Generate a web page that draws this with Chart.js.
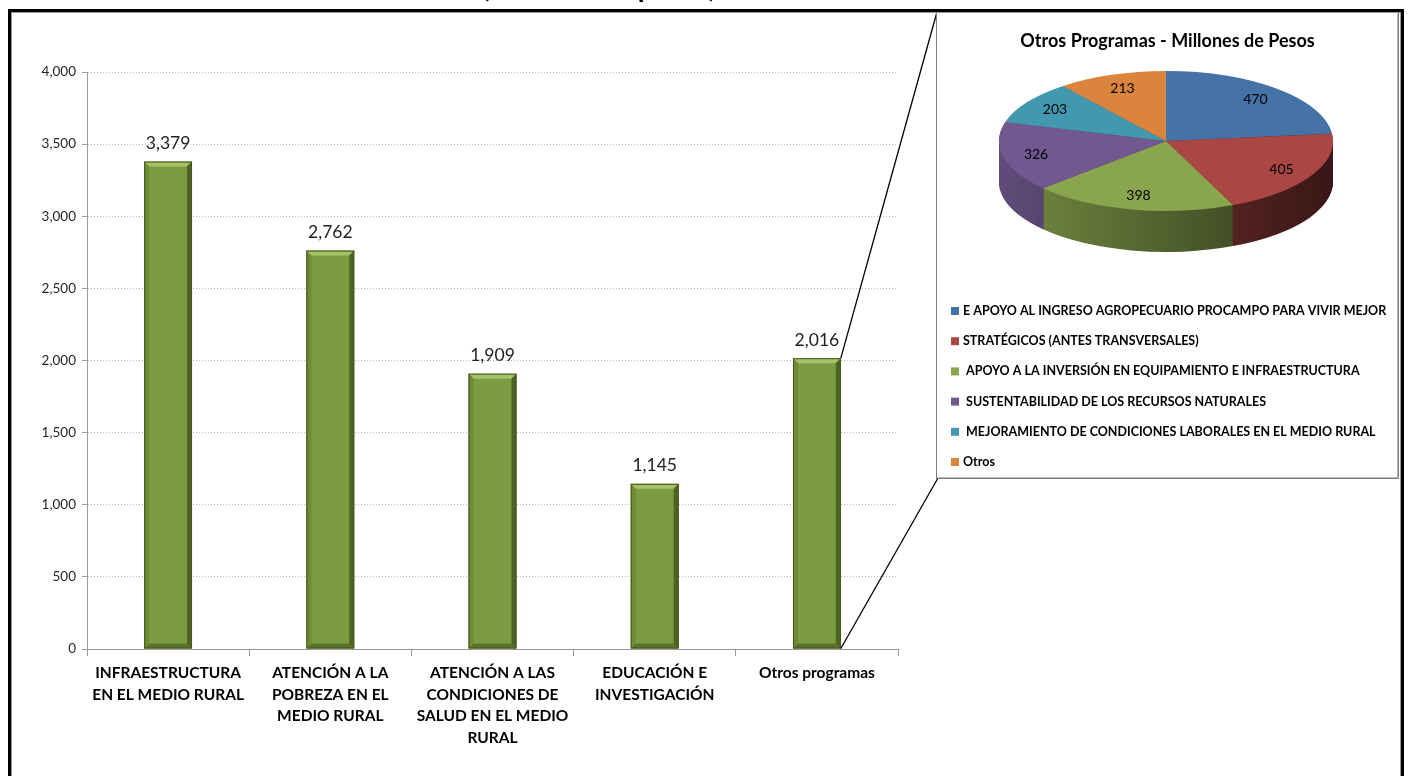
<!DOCTYPE html>
<html><head><meta charset="utf-8">
<script src="https://cdn.jsdelivr.net/npm/chart.js@4"></script>
<style>
html,body{margin:0;padding:0;background:#fff;width:1408px;height:776px;overflow:hidden;}
#bar{position:absolute;left:0;top:0;}
#frame{position:absolute;left:8px;top:9px;width:1396px;height:820px;box-sizing:border-box;border:3px solid #000;box-shadow:inset 0 0 0 1px #9a9a9a;pointer-events:none;}
#inset{position:absolute;left:936px;top:11px;width:463px;height:468px;box-sizing:border-box;border:1px solid #7a7a7a;background:#fff;box-shadow:inset -1px -1px 0 #c0c0c0;}
#pie{position:absolute;left:937px;top:12px;}
</style></head><body>
<canvas id="bar" width="1408" height="776"></canvas>
<div id="inset"></div>
<canvas id="pie" width="461" height="466"></canvas>
<div id="frame"></div>
<script>
// ---- data ----
const categories = [
  ['INFRAESTRUCTURA','EN EL MEDIO RURAL'],
  ['ATENCIÓN A LA','POBREZA EN EL','MEDIO RURAL'],
  ['ATENCIÓN A LAS','CONDICIONES DE','SALUD EN EL MEDIO','RURAL'],
  ['EDUCACIÓN E','INVESTIGACIÓN'],
  ['Otros programas']
];
const values = [3379, 2762, 1909, 1145, 2016];
const yMin = 0, yMax = 4000, yStep = 500;
const cutTitle = '(millones de pesos)';

const pieTitle = 'Otros Programas - Millones de Pesos';
const pieLabels = [
  'E APOYO AL INGRESO AGROPECUARIO PROCAMPO PARA VIVIR MEJOR',
  'STRATÉGICOS (ANTES TRANSVERSALES)',
  ' APOYO A LA INVERSIÓN EN EQUIPAMIENTO E INFRAESTRUCTURA',
  ' SUSTENTABILIDAD DE LOS RECURSOS NATURALES',
  ' MEJORAMIENTO DE CONDICIONES LABORALES EN EL MEDIO RURAL',
  'Otros'
];
const pieValues = [470, 405, 398, 326, 203, 213];
const pieColors = ['#4572A7','#AA4643','#89A54E','#71588F','#4198AF','#DB843D'];

// ---- helpers ----
function shade(hex, f){
  const n = parseInt(hex.slice(1),16);
  const r = Math.round(((n>>16)&255)*f), g = Math.round(((n>>8)&255)*f), b = Math.round((n&255)*f);
  return 'rgb('+r+','+g+','+b+')';
}
const FONT = 'Lato, "Open Sans", sans-serif';

// ---- bar chart ----
const INSET_TL = {x:937, y:12}, INSET_BL = {x:938, y:478};
const barDeco = {
  id:'barDeco',
  afterDatasetsDraw(chart){
    const ctx = chart.ctx;
    const meta = chart.getDatasetMeta(0);
    meta.data.forEach((b,i)=>{
      const x=b.x, y=b.y, base=b.base, w=b.width;
      const L=x-w/2, R=x+w/2, T=y, B=base, s=5;
      const poly=(pts,c)=>{ctx.beginPath();ctx.moveTo(pts[0][0],pts[0][1]);for(let k=1;k<pts.length;k++)ctx.lineTo(pts[k][0],pts[k][1]);ctx.closePath();ctx.fillStyle=c;ctx.fill();};
      ctx.save();
      poly([[L,T],[R,T],[R-s,T+s],[L+s,T+s]],'#a6c266');
      poly([[L,T],[L+s,T+s],[L+s,B-s],[L,B]],'#6e8b35');
      poly([[R,T],[R,B],[R-s,B-s],[R-s,T+s]],'#4d6224');
      poly([[L,B],[R,B],[R-s,B-s],[L+s,B-s]],'#5b722a');
      ctx.strokeStyle='#43561e';ctx.lineWidth=1;
      ctx.strokeRect(L+0.5,T+0.5,w-1,B-T-1);
      ctx.fillStyle='#222';
      ctx.font='17.5px '+FONT;
      ctx.textAlign='center';ctx.textBaseline='middle';
      ctx.fillText(values[i].toLocaleString('en-US'), x, y-18);
      ctx.restore();
    });
  },
  afterDraw(chart){
    const ctx = chart.ctx;
    const meta = chart.getDatasetMeta(0);
    const last = meta.data[meta.data.length-1];
    const rx = last.x + last.width/2;
    ctx.save();
    ctx.strokeStyle='#000';ctx.lineWidth=1.3;
    ctx.beginPath();ctx.moveTo(rx,last.y);ctx.lineTo(INSET_TL.x,INSET_TL.y);ctx.stroke();
    ctx.beginPath();ctx.moveTo(rx,last.base);ctx.lineTo(INSET_BL.x,INSET_BL.y);ctx.stroke();
    ctx.fillStyle='#000';ctx.font='bold 28px '+FONT;ctx.textAlign='left';ctx.textBaseline='alphabetic';
    ctx.fillText(cutTitle, 482, -3);
    ctx.restore();
  }
};

new Chart(document.getElementById('bar'), {
  type:'bar',
  data:{labels:categories, datasets:[{data:values, backgroundColor:'#7d9c41', borderWidth:0, barPercentage:0.295, categoryPercentage:1}]},
  options:{
    responsive:false, animation:false, events:[],
    layout:{padding:{left:0,right:510,top:72,bottom:0}},
    plugins:{legend:{display:false}, tooltip:{enabled:false}, title:{display:false}},
    scales:{
      x:{
        grid:{display:true, drawOnChartArea:false, drawTicks:true, tickLength:7, color:'#9a9a9a', tickColor:'#9a9a9a', offset:true},
        border:{color:'#9a9a9a', width:1},
        ticks:{font:{family:FONT,size:15.5,weight:'bold',lineHeight:1.4}, color:'#000', padding:6, maxRotation:0, minRotation:0, autoSkip:false},
        afterFit(s){ s.height = 127; }
      },
      y:{
        min:yMin, max:yMax,
        ticks:{stepSize:yStep, callback:v=>Number(v).toLocaleString('en-US'), font:{family:FONT,size:13.5}, color:'#262626', padding:6},
        grid:{color:'#bdbdbd', tickColor:'#9a9a9a', tickLength:5},
        border:{color:'#9a9a9a', width:1, dash:[1,2]},
        afterFit(s){ s.width = 87; }
      }
    }
  },
  plugins:[barDeco]
});

// ---- pie chart (3D look) ----
const CX = 229, CY = 129, RX = 167, RY = 70, DEPTH = 41;
function xf(ctx, a){
  const R = a.outerRadius;
  ctx.translate(CX, CY);
  ctx.scale(RX/R, RY/R);
  ctx.translate(-a.x, -a.y);
}
const pie3d = {
  id:'pie3d',
  beforeDatasetsDraw(chart){
    const ctx = chart.ctx;
    const arcs = chart.getDatasetMeta(0).data;
    const a0 = arcs[0];
    const R = a0.outerRadius;
    for(let d = DEPTH; d >= 1; d--){
      ctx.save();
      ctx.translate(0, d);
      xf(ctx, a0);
      arcs.forEach((a,i)=>{
        const g = ctx.createLinearGradient(a.x-R,0,a.x+R,0);
        g.addColorStop(0, shade(pieColors[i],0.85));
        g.addColorStop(1, shade(pieColors[i],0.33));
        ctx.beginPath();ctx.moveTo(a.x,a.y);
        ctx.arc(a.x,a.y,a.outerRadius,a.startAngle,a.endAngle);
        ctx.closePath();ctx.fillStyle=g;ctx.fill();
      });
      ctx.restore();
    }
    ctx.save();
    xf(ctx, a0);
  },
  afterDatasetsDraw(chart){
    const ctx = chart.ctx;
    ctx.restore();
    const arcs = chart.getDatasetMeta(0).data;
    ctx.save();
    ctx.fillStyle='#000';ctx.font='14px '+FONT;ctx.textAlign='center';ctx.textBaseline='middle';
    arcs.forEach((a,i)=>{
      const m = (a.startAngle + a.endAngle)/2, f = 0.8;
      ctx.fillText(String(pieValues[i]), CX + Math.cos(m)*RX*f, CY + Math.sin(m)*RY*f);
    });
    ctx.restore();
  },
  afterDraw(chart){
    const ctx = chart.ctx;
    ctx.save();
    ctx.font='bold 12.5px '+FONT;ctx.textAlign='left';ctx.textBaseline='middle';
    pieLabels.forEach((t,i)=>{
      const y = 299 + i*30.2;
      ctx.fillStyle = pieColors[i];
      ctx.fillRect(14, y-4, 8, 8);
      ctx.fillStyle = '#000';
      ctx.fillText(t, 26, y);
    });
    ctx.restore();
  }
};

new Chart(document.getElementById('pie'), {
  type:'pie',
  data:{labels:pieLabels, datasets:[{data:pieValues, backgroundColor:pieColors, borderWidth:0, clip:false}]},
  options:{
    responsive:false, animation:false, events:[],
    layout:{padding:{top:0,bottom:180,left:60,right:60}},
    plugins:{
      legend:{display:false}, tooltip:{enabled:false},
      title:{display:true, text:pieTitle, font:{family:FONT,size:18,weight:'bold'}, color:'#000', padding:{top:18,bottom:10}}
    }
  },
  plugins:[pie3d]
});
</script>
</body></html>
